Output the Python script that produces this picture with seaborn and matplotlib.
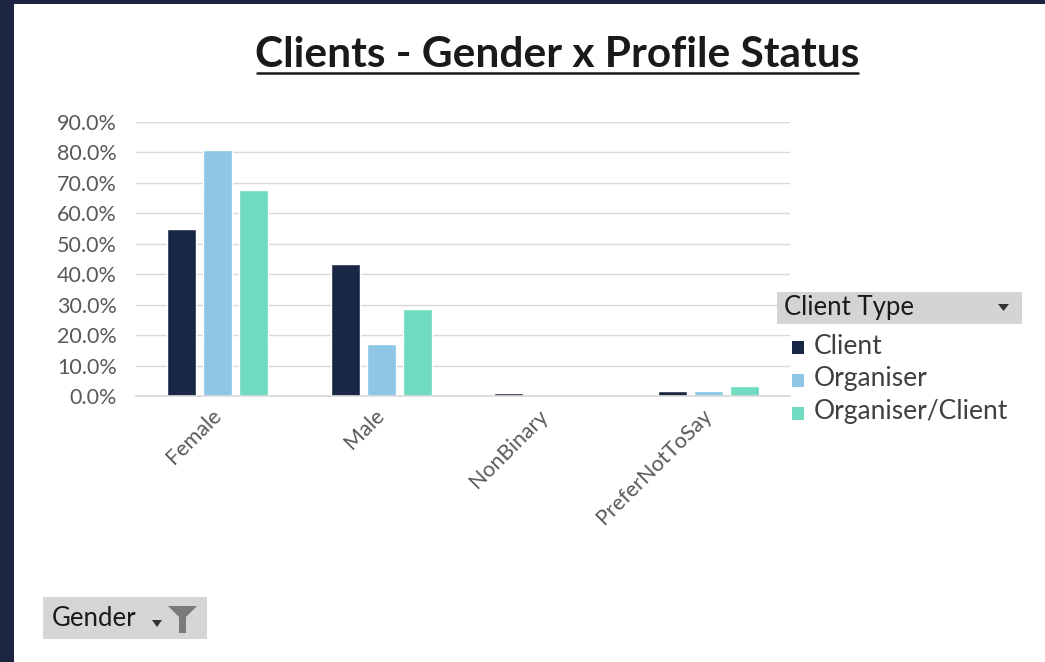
import matplotlib
matplotlib.use("Agg")
import matplotlib.pyplot as plt
import seaborn as sns
import pandas as pd
from matplotlib.patches import Rectangle, Polygon
from matplotlib.ticker import PercentFormatter

genders = ["Female", "Male", "NonBinary", "PreferNotToSay"]
client_types = ["Client", "Organiser", "Organiser/Client"]
client_vals = [0.547, 0.432, 0.010, 0.017]
organiser_vals = [0.806, 0.170, 0.007, 0.015]
org_client_vals = [0.675, 0.284, 0.007, 0.034]
yticks = [0.0, 0.1, 0.2, 0.3, 0.4, 0.5, 0.6, 0.7, 0.8, 0.9]
colors = ["#1a2744", "#8ec6e6", "#6fdcc0"]

rows = []
for ct, vals in zip(client_types, [client_vals, organiser_vals, org_client_vals]):
    for g, v in zip(genders, vals):
        rows.append({"Gender": g, "Client Type": ct, "Share": v})
df = pd.DataFrame(rows)

sns.set_theme(style="white")
plt.rcParams["font.family"] = ["Lato", "DejaVu Sans"]

W, H = 1045, 662
fig = plt.figure(figsize=(W / 100, H / 100), dpi=100)
fig.patch.set_facecolor("white")

# dark frame on left and top
fig.patches.append(Rectangle((0, 0), 14 / W, 1, transform=fig.transFigure,
                             facecolor="#1b2441", edgecolor="none", zorder=0))
fig.patches.append(Rectangle((0, 1 - 4 / H), 1, 4 / H, transform=fig.transFigure,
                             facecolor="#1b2441", edgecolor="none", zorder=0))

ax_l, ax_r = 136 / W, 790 / W
ax_b, ax_t = 1 - 396 / H, 1 - 121.7 / H
ax = fig.add_axes([ax_l, ax_b, ax_r - ax_l, ax_t - ax_b])

sns.barplot(data=df, x="Gender", y="Share", hue="Client Type", order=genders,
            hue_order=client_types, palette=colors, width=0.66, gap=0.2,
            ax=ax, legend=False, saturation=1)

ax.set_xlim(-0.5, 3.5)
ax.set_ylim(0, 0.9)
ax.set_yticks(yticks)
ax.yaxis.set_major_formatter(PercentFormatter(1.0, decimals=1))
ax.grid(axis="y", color="#d9d9d9", linewidth=1)
ax.set_axisbelow(True)
for s in ["top", "right", "left"]:
    ax.spines[s].set_visible(False)
ax.spines["bottom"].set_color("#d9d9d9")
ax.set_xlabel("")
ax.set_ylabel("")
ax.tick_params(axis="both", length=0, colors="#595959", labelsize=15.5)
ax.tick_params(axis="y", pad=14)
ax.tick_params(axis="x", pad=12)
for lab in ax.get_xticklabels():
    lab.set_rotation(45)
    lab.set_ha("right")
    lab.set_rotation_mode("anchor")
    lab.set_va("center")
    lab.set_color("#595959")
    lab.set_x(lab.get_position()[0])

# title
fig.text(557 / W, 1 - 55 / H, "Clients - Gender x Profile Status",
         ha="center", va="center", fontsize=30.5, fontweight="bold",
         color="#1a1a1a")
fig.add_artist(plt.Line2D([257 / W, 858 / W], [1 - 73 / H, 1 - 73 / H],
                          transform=fig.transFigure, color="#1a1a1a", linewidth=1.8))

# legend header
fig.patches.append(Rectangle((777 / W, 1 - 324 / H), 245 / W, 32 / H,
                             transform=fig.transFigure, facecolor="#d4d4d4",
                             edgecolor="none"))
fig.text(784 / W, 1 - 308 / H, "Client Type", ha="left", va="center",
         fontsize=18.5, color="#1a1a1a")
fig.patches.append(Polygon([[998 / W, 1 - 304 / H], [1009 / W, 1 - 304 / H],
                            [1003.5 / W, 1 - 311 / H]], closed=True,
                           transform=fig.transFigure, facecolor="#333333",
                           edgecolor="none"))
legend_y = [346, 379, 412]
for ct, c, y in zip(client_types, colors, legend_y):
    fig.patches.append(Rectangle((792 / W, 1 - (y + 8) / H), 12 / W, 13 / H,
                                 transform=fig.transFigure, facecolor=c,
                                 edgecolor="none"))
    fig.text(814 / W, 1 - y / H, ct, ha="left", va="center",
             fontsize=19, color="#404040")

# gender filter button
fig.patches.append(Rectangle((43 / W, 1 - 639 / H), 164 / W, 42 / H,
                             transform=fig.transFigure, facecolor="#d6d6d6",
                             edgecolor="none"))
fig.text(52 / W, 1 - 619 / H, "Gender", ha="left", va="center",
         fontsize=18.5, color="#1a1a1a")
fig.patches.append(Polygon([[152 / W, 1 - 620 / H], [162 / W, 1 - 620 / H],
                            [157 / W, 1 - 627 / H]], closed=True,
                           transform=fig.transFigure, facecolor="#333333",
                           edgecolor="none"))
fig.patches.append(Polygon([[168 / W, 1 - 606 / H], [197 / W, 1 - 606 / H],
                            [186 / W, 1 - 617 / H], [186 / W, 1 - 633 / H],
                            [179 / W, 1 - 633 / H], [179 / W, 1 - 617 / H]],
                           closed=True, transform=fig.transFigure,
                           facecolor="#7a7a7a", edgecolor="none"))

fig.savefig("out.png", dpi=100, facecolor="white")
